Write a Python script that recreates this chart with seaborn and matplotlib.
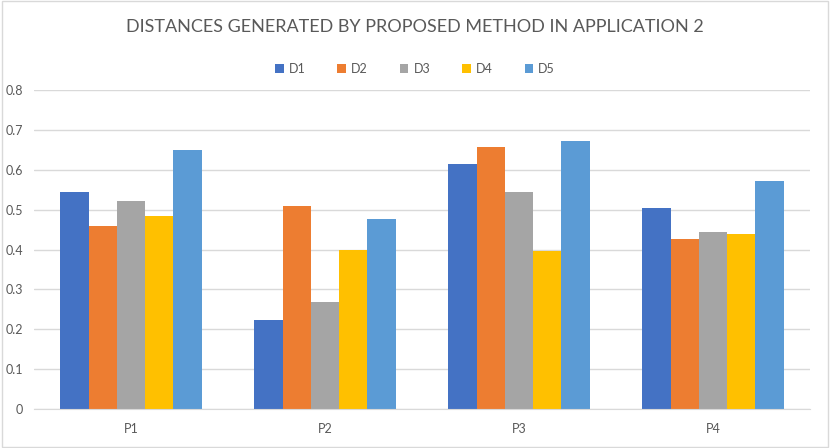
import matplotlib
matplotlib.use("Agg")
import matplotlib.pyplot as plt
import seaborn as sns
import pandas as pd

groups = ["P1", "P2", "P3", "P4"]
series = ["D1", "D2", "D3", "D4", "D5"]
d1 = [0.544, 0.223, 0.615, 0.505]
d2 = [0.459, 0.509, 0.656, 0.426]
d3 = [0.521, 0.268, 0.543, 0.444]
d4 = [0.484, 0.399, 0.395, 0.439]
d5 = [0.649, 0.476, 0.671, 0.573]
colors = ["#4472C4", "#ED7D31", "#A5A5A5", "#FFC000", "#5B9BD5"]

rows = []
for name, vals in zip(series, [d1, d2, d3, d4, d5]):
    for g, v in zip(groups, vals):
        rows.append({"group": g, "series": name, "value": v})
df = pd.DataFrame(rows)

sns.set_style("white")
plt.rcParams['font.family'] = ['Lato', 'DejaVu Sans']

fig = plt.figure(figsize=(8.3, 4.48), dpi=100)
ax = fig.add_axes([34 / 830, 1 - 409 / 448, 776 / 830, 319 / 448])
sns.barplot(data=df, x="group", y="value", hue="series", palette=colors,
            width=0.73, linewidth=0, saturation=1, ax=ax)

ax.set_ylim(0, 0.8)
ax.set_yticks([i / 10 for i in range(9)])
ax.set_yticklabels(["0"] + [f"{i/10:.1f}" for i in range(1, 9)])
ax.yaxis.grid(True, color="#D9D9D9", linewidth=1)
ax.set_axisbelow(True)
for s in ["top", "right", "left"]:
    ax.spines[s].set_visible(False)
ax.spines["bottom"].set_color("#D9D9D9")
ax.tick_params(axis="both", length=0, labelsize=9, colors="#595959", pad=8)
ax.tick_params(axis="x", pad=10)
ax.set_xlabel("")
ax.set_ylabel("")

ax.legend(loc="center", bbox_to_anchor=(0.491, 1 + 21 / 319), ncol=5, frameon=False,
          fontsize=9, handlelength=0.7, handleheight=0.7, columnspacing=2.55,
          handletextpad=0.4, labelcolor="#595959")
fig.suptitle("DISTANCES GENERATED BY PROPOSED METHOD IN APPLICATION 2",
             y=1 - 27 / 448, va="center", fontsize=13, color="#595959")

# light chart border
fig.patches.append(plt.Rectangle((0.002, 0.002), 0.996, 0.996, transform=fig.transFigure,
                                 fill=False, edgecolor="#D9D9D9", linewidth=1))

fig.savefig("out.png", dpi=100)
